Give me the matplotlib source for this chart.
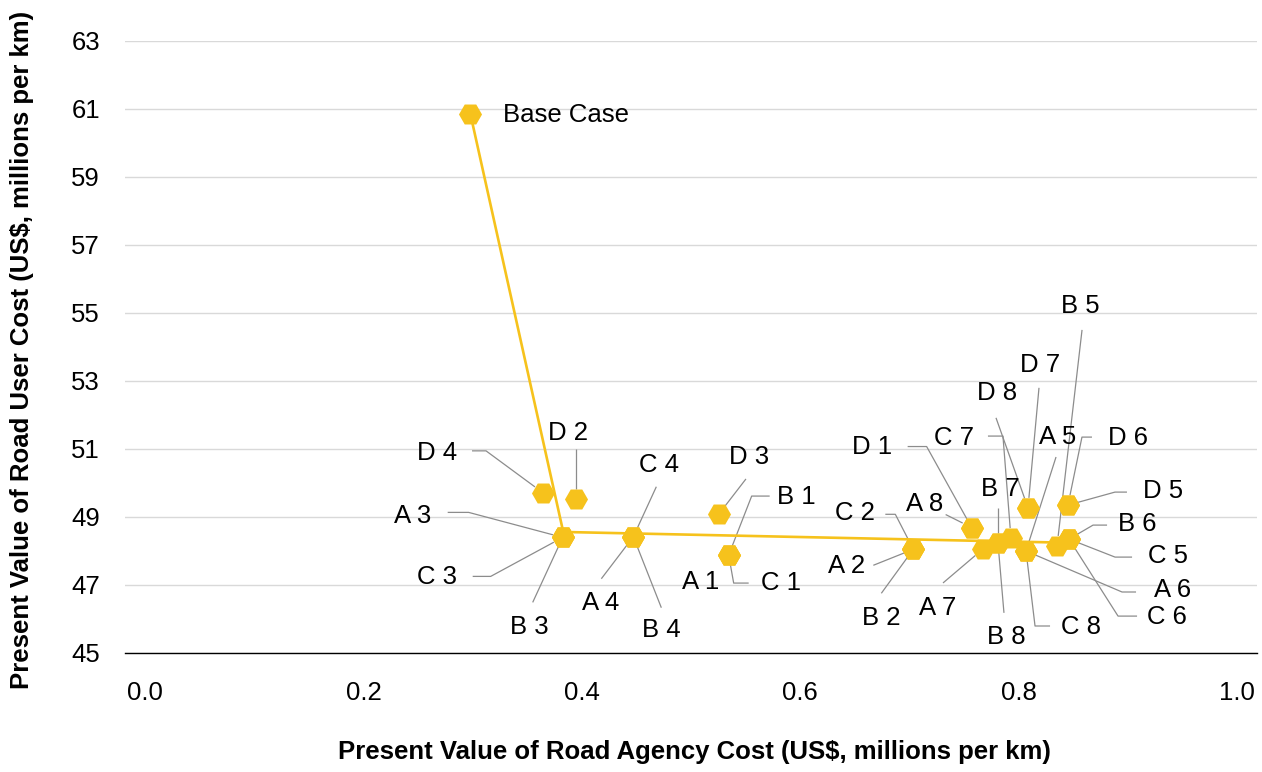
import numpy as np
import matplotlib
matplotlib.use("Agg")
import matplotlib.pyplot as plt

plt.rcParams['font.family'] = ['Liberation Sans', 'DejaVu Sans']

# --- data -------------------------------------------------------------
scenarios = ['Base Case',
             'A 1', 'B 1', 'C 1',
             'A 2', 'B 2', 'C 2',
             'A 3', 'B 3', 'C 3',
             'A 4', 'B 4', 'C 4',
             'D 1', 'D 2', 'D 3', 'D 4',
             'A 5', 'B 5', 'C 5', 'D 5',
             'A 6', 'B 6', 'C 6', 'D 6',
             'A 7', 'B 7', 'C 7', 'D 7',
             'A 8', 'B 8', 'C 8', 'D 8']
agency_cost = [0.298,
               0.5345, 0.5345, 0.5345,
               0.7036, 0.7036, 0.7036,
               0.3825, 0.3825, 0.3825,
               0.4472, 0.4472, 0.4472,
               0.7570, 0.3947, 0.5256, 0.3645,
               0.8068, 0.8352, 0.8462, 0.8452,
               0.8068, 0.8462, 0.8462, 0.8452,
               0.7674, 0.7811, 0.7930, 0.8086,
               0.7570, 0.7811, 0.8068, 0.8086]
user_cost = [60.85,
             47.88, 47.88, 47.88,
             48.05, 48.05, 48.05,
             48.40, 48.40, 48.40,
             48.42, 48.42, 48.42,
             48.69, 49.52, 49.09, 49.71,
             48.00, 48.15, 48.35, 49.35,
             48.00, 48.35, 48.35, 49.35,
             48.06, 48.24, 48.38, 49.27,
             48.69, 48.24, 48.00, 49.27]

# efficient frontier
frontier_x = [0.298, 0.383, 0.849]
frontier_y = [60.85, 48.56, 48.24]

x_ticks = [0.0, 0.2, 0.4, 0.6, 0.8, 1.0]
y_ticks = [45, 47, 49, 51, 53, 55, 57, 59, 61, 63]

# --- label layout (pixel offsets from each point: text centre, leader vertices)
label_layout = {
    'Base Case': ((33, 1), []),
    'A 3': ((-150, -21), [(-115, -25), (-94, -25)]),
    'C 3': ((-126, 40), [(-90, 39), (-72, 39)]),
    'B 3': ((-33, 90), [(-30, 65)]),
    'C 4': ((26, -72), [(23, -50)]),
    'A 4': ((-33, 66), [(-32, 42)]),
    'B 4': ((28, 93), [(28, 71)]),
    'D 4': ((-106, -40), [(-71, -42), (-57, -42)]),
    'D 2': ((-8, -66), [(0, -50)]),
    'D 3': ((30, -57), [(27, -35)]),
    'B 1': ((68, -58), [(41, -59), (23, -59)]),
    'A 1': ((-28, 27), []),
    'C 1': ((52, 28), [(20, 28), (5, 28)]),
    'C 2': ((-58, -36), [(-28, -35), (-18, -35)]),
    'A 2': ((-67, 17), [(-40, 16)]),
    'B 2': ((-32, 69), [(-32, 44)]),
    'A 8': ((-47, -24), [(-26, -13)]),
    'D 1': ((-100, -81), [(-64, -81), (-45, -81)]),
    'A 7': ((-45, 59), [(-40, 34)]),
    'B 7': ((2, -54), [(0, -35)]),
    'B 8': ((8, 94), [(6, 70)]),
    'C 7': ((-57, -100), [(-23, -102), (-8, -102)]),
    'D 8': ((-31, -115), [(-32, -90)]),
    'D 7': ((12, -143), [(11, -120)]),
    'A 5': ((32, -114), [(30, -94)]),
    'A 6': ((147, 39), [(110, 41), (96, 41)]),
    'C 8': ((55, 76), [(24, 75), (9, 75)]),
    'B 5': ((23, -240), [(25, -216)]),
    'D 6': ((60, -67), [(24, -68), (14, -68)]),
    'D 5': ((95, -14), [(59, -13), (47, -13)]),
    'B 6': ((68, -15), [(38, -14), (24, -14)]),
    'C 5': ((99, 17), [(63, 18), (46, 18)]),
    'C 6': ((98, 78), [(68, 77), (49, 77)]),
}

GOLD = '#F6C21C'
FS = 18.5

W, H = 1262, 772
fig = plt.figure(figsize=(W / 100, H / 100), dpi=100)
ax = fig.add_axes([125 / W, 1 - 653 / H, 1132 / W, 612 / H])

ax.set_xlim(-20 / 1092, 1 + 20 / 1092)
ax.set_ylim(45, 63)
ax.set_xticks(x_ticks)
ax.set_xticklabels([f'{v:.1f}' for v in x_ticks])
ax.set_yticks(y_ticks)
ax.set_yticklabels([str(v) for v in y_ticks])
ax.yaxis.grid(True, color='#d9d9d9', lw=1.0)
ax.set_axisbelow(True)
for s in ('left', 'top', 'right'):
    ax.spines[s].set_visible(False)
ax.spines['bottom'].set_color('#000000')
ax.spines['bottom'].set_linewidth(1.0)
ax.tick_params(axis='both', length=0, labelsize=FS, colors='#000000')
ax.tick_params(axis='y', pad=18)
ax.tick_params(axis='x', pad=20)

ax.plot(frontier_x, frontier_y, color=GOLD, lw=1.9, zorder=3)
ax.plot(agency_cost, user_cost, ls='none', marker='H', ms=16.6,
        mfc=GOLD, mec='none', zorder=4)

fig.canvas.draw()
to_disp = ax.transData.transform
to_data = ax.transData.inverted().transform

for name, xv, yv in zip(scenarios, agency_cost, user_cost):
    (tdx, tdy), leader = label_layout[name]
    px, py = to_disp((xv, yv))
    tx, ty = to_data((px + tdx, py - tdy))
    if name == 'Base Case':
        ax.text(tx, ty, name, ha='left', va='center', fontsize=FS,
                color='#000000', zorder=5)
    else:
        ax.text(tx, ty, name, ha='center', va='center', fontsize=FS,
                color='#000000', zorder=5)
    if leader:
        verts = [(px + dx, py - dy) for dx, dy in leader]
        lx, ly = verts[-1]
        d = np.hypot(lx - px, ly - py)
        r = 10.0
        verts.append((px + (lx - px) * r / d, py + (ly - py) * r / d))
        dv = to_data(np.array(verts))
        ax.plot(dv[:, 0], dv[:, 1], color='#8c8c8c', lw=0.9, zorder=2,
                solid_capstyle='butt')

fig.text(694 / W, 1 - 752 / H,
         'Present Value of Road Agency Cost (US$, millions per km)',
         ha='center', va='center', fontsize=FS, fontweight='bold')
fig.text(22 / W, 1 - 350 / H,
         'Present Value of Road User Cost (US$, millions per km)',
         ha='center', va='center', rotation=90, fontsize=FS, fontweight='bold')

fig.savefig('out.png', dpi=100)
